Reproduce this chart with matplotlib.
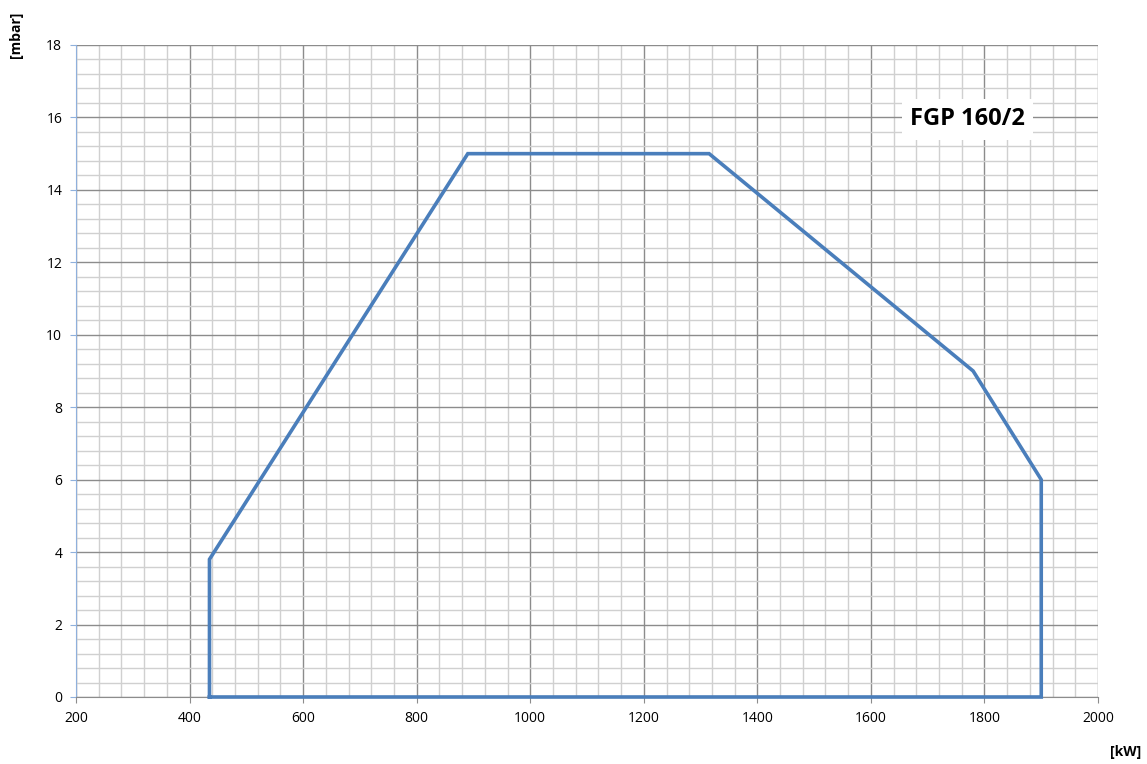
import matplotlib.pyplot as plt
from matplotlib.ticker import MultipleLocator

# working field of the burner (output in kW vs. combustion chamber pressure in mbar)
power_kw = [435, 435, 890, 1315, 1780, 1900, 1900, 435]
pressure_mbar = [0, 3.8, 15, 15, 9, 6, 0, 0]

model_name = "FGP 160/2"

plt.rcParams['font.family'] = ['Open Sans', 'DejaVu Sans']

fig = plt.figure(figsize=(11.47, 7.64), dpi=100)
ax = fig.add_axes([0.0663, 0.0877, 0.891, 0.8534])

ax.set_xlim(200, 2000)
ax.set_ylim(0, 18)
ax.xaxis.set_major_locator(MultipleLocator(200))
ax.xaxis.set_minor_locator(MultipleLocator(40))
ax.yaxis.set_major_locator(MultipleLocator(2))
ax.yaxis.set_minor_locator(MultipleLocator(0.4))

ax.grid(which='major', color='#8c8c8c', linewidth=1.0)
ax.grid(which='minor', color='#d0d0d0', linewidth=1.0)
ax.set_axisbelow(True)

for side in ('top', 'right'):
    ax.spines[side].set_visible(False)
ax.spines['left'].set_color('#8fb0dc')
ax.spines['bottom'].set_color('#8c8c8c')
ax.tick_params(which='both', length=0, labelsize=10, pad=6)
ax.tick_params(axis='y', which='major', length=4, color='#8fb0dc')
ax.tick_params(axis='x', which='major', length=4, color='#8c8c8c')

ax.plot(power_kw, pressure_mbar, color='#4a7ebb', linewidth=2.6,
        solid_joinstyle='miter', clip_on=False, zorder=3)

ax.text(1770, 15.95, model_name, fontsize=17, fontweight='bold',
        ha='center', va='center',
        bbox=dict(facecolor='white', edgecolor='none', pad=6))

fig.text(0.014, 0.955, '[mbar]', rotation=90, fontsize=10, fontweight='bold',
         ha='center', va='center')
fig.text(0.981, 0.016, '[kW]', fontsize=10, fontweight='bold',
         ha='center', va='center')

fig.savefig('out.png', dpi=100, facecolor='white')
